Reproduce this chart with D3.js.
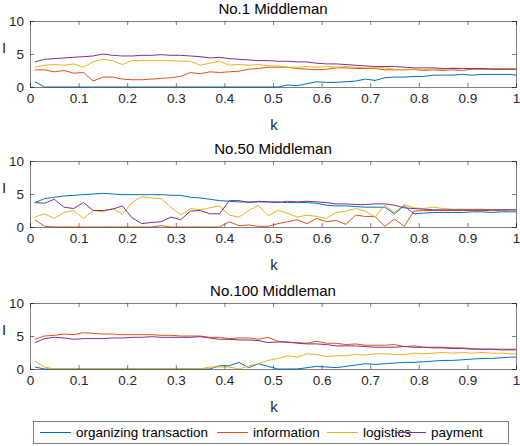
<!DOCTYPE html>
<html><head><meta charset="utf-8">
<script src="https://cdn.jsdelivr.net/npm/d3@7"></script>
<style>body{margin:0;background:#fff}svg{font-family:"Liberation Sans",Arial,sans-serif}</style>
</head><body><svg id="c" width="520" height="446"></svg>
<script>
const kVals = d3.range(1,100,2).map(i=>i/100).concat([1.0]);
const seriesNames = ["organizing transaction","information","logistics","payment"];
const colors = ["#0072BD","#D95319","#EDB120","#7E2F8E"];
const titles = ["No.1 Middleman","No.50 Middleman","No.100 Middleman"];
const xTicks = [0,0.1,0.2,0.3,0.4,0.5,0.6,0.7,0.8,0.9,1];
const xTickLabels = ["0","0.1","0.2","0.3","0.4","0.5","0.6","0.7","0.8","0.9","1"];
const yTicks = [0,5,10];

const p1Org = [0.8,0,0,0,0,0,0,0,0,0,0,0,0,0,0,0,0,0,0,0,0,0,0,0,0,0,0.3,0.2,0.5,0.8,0.7,0.7,0.8,0.9,1.2,1.0,1.4,1.5,1.5,1.6,1.6,1.8,1.8,1.8,1.9,1.8,1.9,1.9,1.9,1.9,1.8];
const p1Inf = [2.6,2.6,2.3,2.5,2.1,2.2,0.9,1.5,1.5,1.2,1.1,1.1,1.2,1.3,1.4,1.6,2.2,2.0,2.3,2.2,2.3,2.4,2.7,2.8,3.0,3.0,3.0,2.8,2.7,2.6,2.7,2.9,2.9,2.8,2.8,2.8,2.6,2.6,2.6,2.7,2.5,2.6,2.5,2.6,2.5,2.7,2.7,2.7,2.7,2.7,2.7];
const p1Log = [3.0,3.3,3.4,3.3,3.5,3.0,3.8,4.2,4.0,3.4,4.0,4.0,4.0,4.0,4.0,3.9,3.9,3.3,3.6,3.9,3.3,3.4,3.3,3.4,3.2,3.2,3.0,3.0,3.1,3.0,3.1,3.0,3.1,3.0,2.9,2.9,2.9,2.7,2.6,2.6,2.6,2.7,2.7,2.9,2.8,2.8,2.8,2.8,2.8,2.8,2.8];
const p1Pay = [3.8,4.2,4.3,4.4,4.5,4.6,4.7,5.0,4.8,4.7,4.7,4.8,4.8,4.9,4.8,4.8,4.7,4.6,4.4,4.5,4.3,4.2,4.1,4.0,4.0,3.9,3.9,3.8,3.8,3.6,3.5,3.5,3.4,3.3,3.2,3.1,3.1,3.1,3.0,2.9,2.9,2.9,2.8,2.8,2.8,2.8,2.8,2.7,2.7,2.7,2.7];

const p2Org = [3.7,4.3,4.5,4.7,4.8,4.9,5.0,5.1,5.0,4.9,4.9,4.9,4.9,4.9,4.8,4.8,4.5,4.4,4.2,4.0,3.9,3.8,3.8,3.8,3.8,3.8,3.7,3.7,3.7,3.6,3.3,3.2,3.2,3.1,3.0,3.0,3.0,2.0,3.2,2.0,2.1,2.2,2.2,2.2,2.2,2.3,2.3,2.2,2.3,2.3,2.3];
const p2Inf = [1.1,0.1,0,0,0,0,0,0,0,0,0,0,0,0.2,0,0,0,0,0,0,0.8,0.2,0.3,0.1,0.1,0.5,0.8,1.1,0.5,1.3,0.8,1.0,0.4,1.8,1.6,1.6,0.1,1.2,0.1,2.4,2.5,2.5,2.5,2.5,2.5,2.5,2.5,2.5,2.5,2.6,2.6];
const p2Log = [1.5,2.0,1.3,2.2,2.5,1.3,2.5,2.3,2.8,1.9,3.7,4.6,4.4,4.3,3.0,1.8,2.8,2.6,2.9,3.2,1.8,1.5,2.5,3.3,1.7,2.5,2.1,1.5,1.8,1.6,1.3,2.2,2.4,2.8,2.4,1.5,3.3,2.2,3.4,2.9,2.8,3.0,2.8,2.7,2.7,2.7,2.7,2.6,2.6,2.6,2.6];
const p2Pay = [3.7,3.6,4.2,3.0,2.8,3.7,2.5,2.5,2.7,3.2,1.4,0.5,0.7,0.8,1.5,1.1,2.4,2.5,2.0,2.0,4.0,4.0,3.7,3.9,3.8,3.7,3.9,3.8,3.9,3.8,3.7,3.5,3.5,3.4,3.4,3.5,3.5,3.3,2.9,2.8,2.7,2.6,2.6,2.6,2.6,2.6,2.6,2.6,2.6,2.6,2.6];

const p3Org = [0.3,0,0,0,0,0,0,0,0,0,0,0,0,0,0,0,0,0,0,0.5,0.5,1.0,0.2,0.8,0.4,0,0,0,0.2,0.4,0.3,0.2,0.4,0.6,0.8,0.7,0.8,0.9,1.0,1.0,1.1,1.2,1.3,1.3,1.4,1.5,1.6,1.6,1.7,1.8,1.8];
const p3Inf = [4.5,5.0,5.1,5.3,5.2,5.5,5.4,5.3,5.3,5.2,5.2,5.2,5.2,5.1,5.1,5.0,5.0,5.0,4.8,4.8,4.6,4.7,4.7,4.5,4.8,4.2,4.0,4.0,3.9,4.2,3.9,3.9,3.7,3.8,3.6,3.6,3.6,3.7,3.4,3.5,3.3,3.3,3.3,3.2,3.2,3.1,3.0,3.0,3.0,3.0,3.0];
const p3Log = [1.2,0.3,0,0,0,0,0,0,0,0,0,0,0,0,0,0,0,0,0.3,0.3,0.3,0,0.5,0.8,1.3,1.6,2.0,1.8,2.3,2.2,1.9,2.0,2.0,2.2,2.1,2.3,2.3,2.2,2.2,2.4,2.3,2.4,2.5,2.4,2.5,2.4,2.5,2.4,2.4,2.3,2.3];
const p3Pay = [4.0,4.6,4.8,4.7,4.5,4.6,4.6,4.6,4.7,4.7,4.8,4.8,4.9,4.8,4.8,4.8,4.8,4.9,4.7,4.5,4.5,4.4,4.4,4.3,4.0,4.1,4.1,3.9,3.8,3.8,3.7,3.5,3.5,3.5,3.4,3.3,3.3,3.3,3.4,3.3,3.3,3.2,3.2,3.1,3.1,3.0,3.0,3.0,2.9,2.9,2.9];

const panels = [[p1Org,p1Inf,p1Log,p1Pay],[p2Org,p2Inf,p2Log,p2Pay],[p3Org,p3Inf,p3Log,p3Pay]];

const svg = d3.select("#c");
const L = 30, R = 516;
const tops = [21, 161, 303], H = 66;
const x = d3.scaleLinear().domain([0,1]).range([L,R]);

panels.forEach((ser, pi) => {
  const top = tops[pi];
  const y = d3.scaleLinear().domain([0,10]).range([top+H, top]);
  const g = svg.append("g");
  const line = d3.line().x(d=>x(d[0])).y(d=>y(d[1]));
  ser.forEach((vals, si) => {
    const data = vals.map((v,i)=>[kVals[i],v]).filter(d=>d[0]!==undefined);
    g.append("path").datum(data).attr("d", line).attr("fill","none")
      .attr("stroke", colors[si]).attr("stroke-width",1);
  });
  const xa = d3.axisBottom(x).tickValues(xTicks).tickFormat((d,i)=>xTickLabels[i]).tickSize(-4).tickPadding(6);
  const gx = g.append("g").attr("transform",`translate(0,${top+H})`).call(xa);
  const ya = d3.axisLeft(y).tickValues(yTicks).tickSize(-4).tickPadding(6);
  const gy = g.append("g").attr("transform",`translate(${L},0)`).call(ya);
  const gy2 = g.append("g").attr("transform",`translate(${R},0)`).call(d3.axisRight(y).tickValues(yTicks).tickSize(-4).tickFormat(""));
  const gx2 = g.append("g").attr("transform",`translate(0,${top})`).call(d3.axisTop(x).tickValues(xTicks).tickSize(-4).tickFormat(""));
  [gx,gy,gy2,gx2].forEach(a=>{
    a.selectAll("path,line").attr("stroke","#262626").attr("stroke-width",0.6);
    a.selectAll("text").attr("fill","#262626").style("font-size","13.5px").style("font-family","'Liberation Sans',Arial,sans-serif");
  });
  g.append("text").attr("x",(L+R)/2).attr("y",top-7).attr("text-anchor","middle")
    .attr("font-size","15px").attr("fill","#000").text(titles[pi]);
  g.append("text").attr("x",(L+R)/2+1).attr("y",top+H+43).attr("text-anchor","middle")
    .attr("font-size","15px").attr("fill","#262626").text("k");
  g.append("text").attr("x",4).attr("y",top+H/2-1).attr("text-anchor","middle")
    .attr("font-size","15px").attr("fill","#262626").text("I");
});

const lg = svg.append("g");
lg.append("rect").attr("x",33.5).attr("y",421.5).attr("width",475).attr("height",22)
  .attr("fill","#fff").attr("stroke","#262626").attr("stroke-width",0.6);
const itemStarts = [40, 217, 327, 395];
seriesNames.forEach((n,i)=>{
  const sx = itemStarts[i];
  lg.append("line").attr("x1",sx).attr("x2",sx+31).attr("y1",432.5).attr("y2",432.5)
    .attr("stroke",colors[i]).attr("stroke-width",1);
  lg.append("text").attr("x",sx+36).attr("y",437).attr("font-size","13.5px").attr("fill","#000").text(n);
});
</script></body></html>
